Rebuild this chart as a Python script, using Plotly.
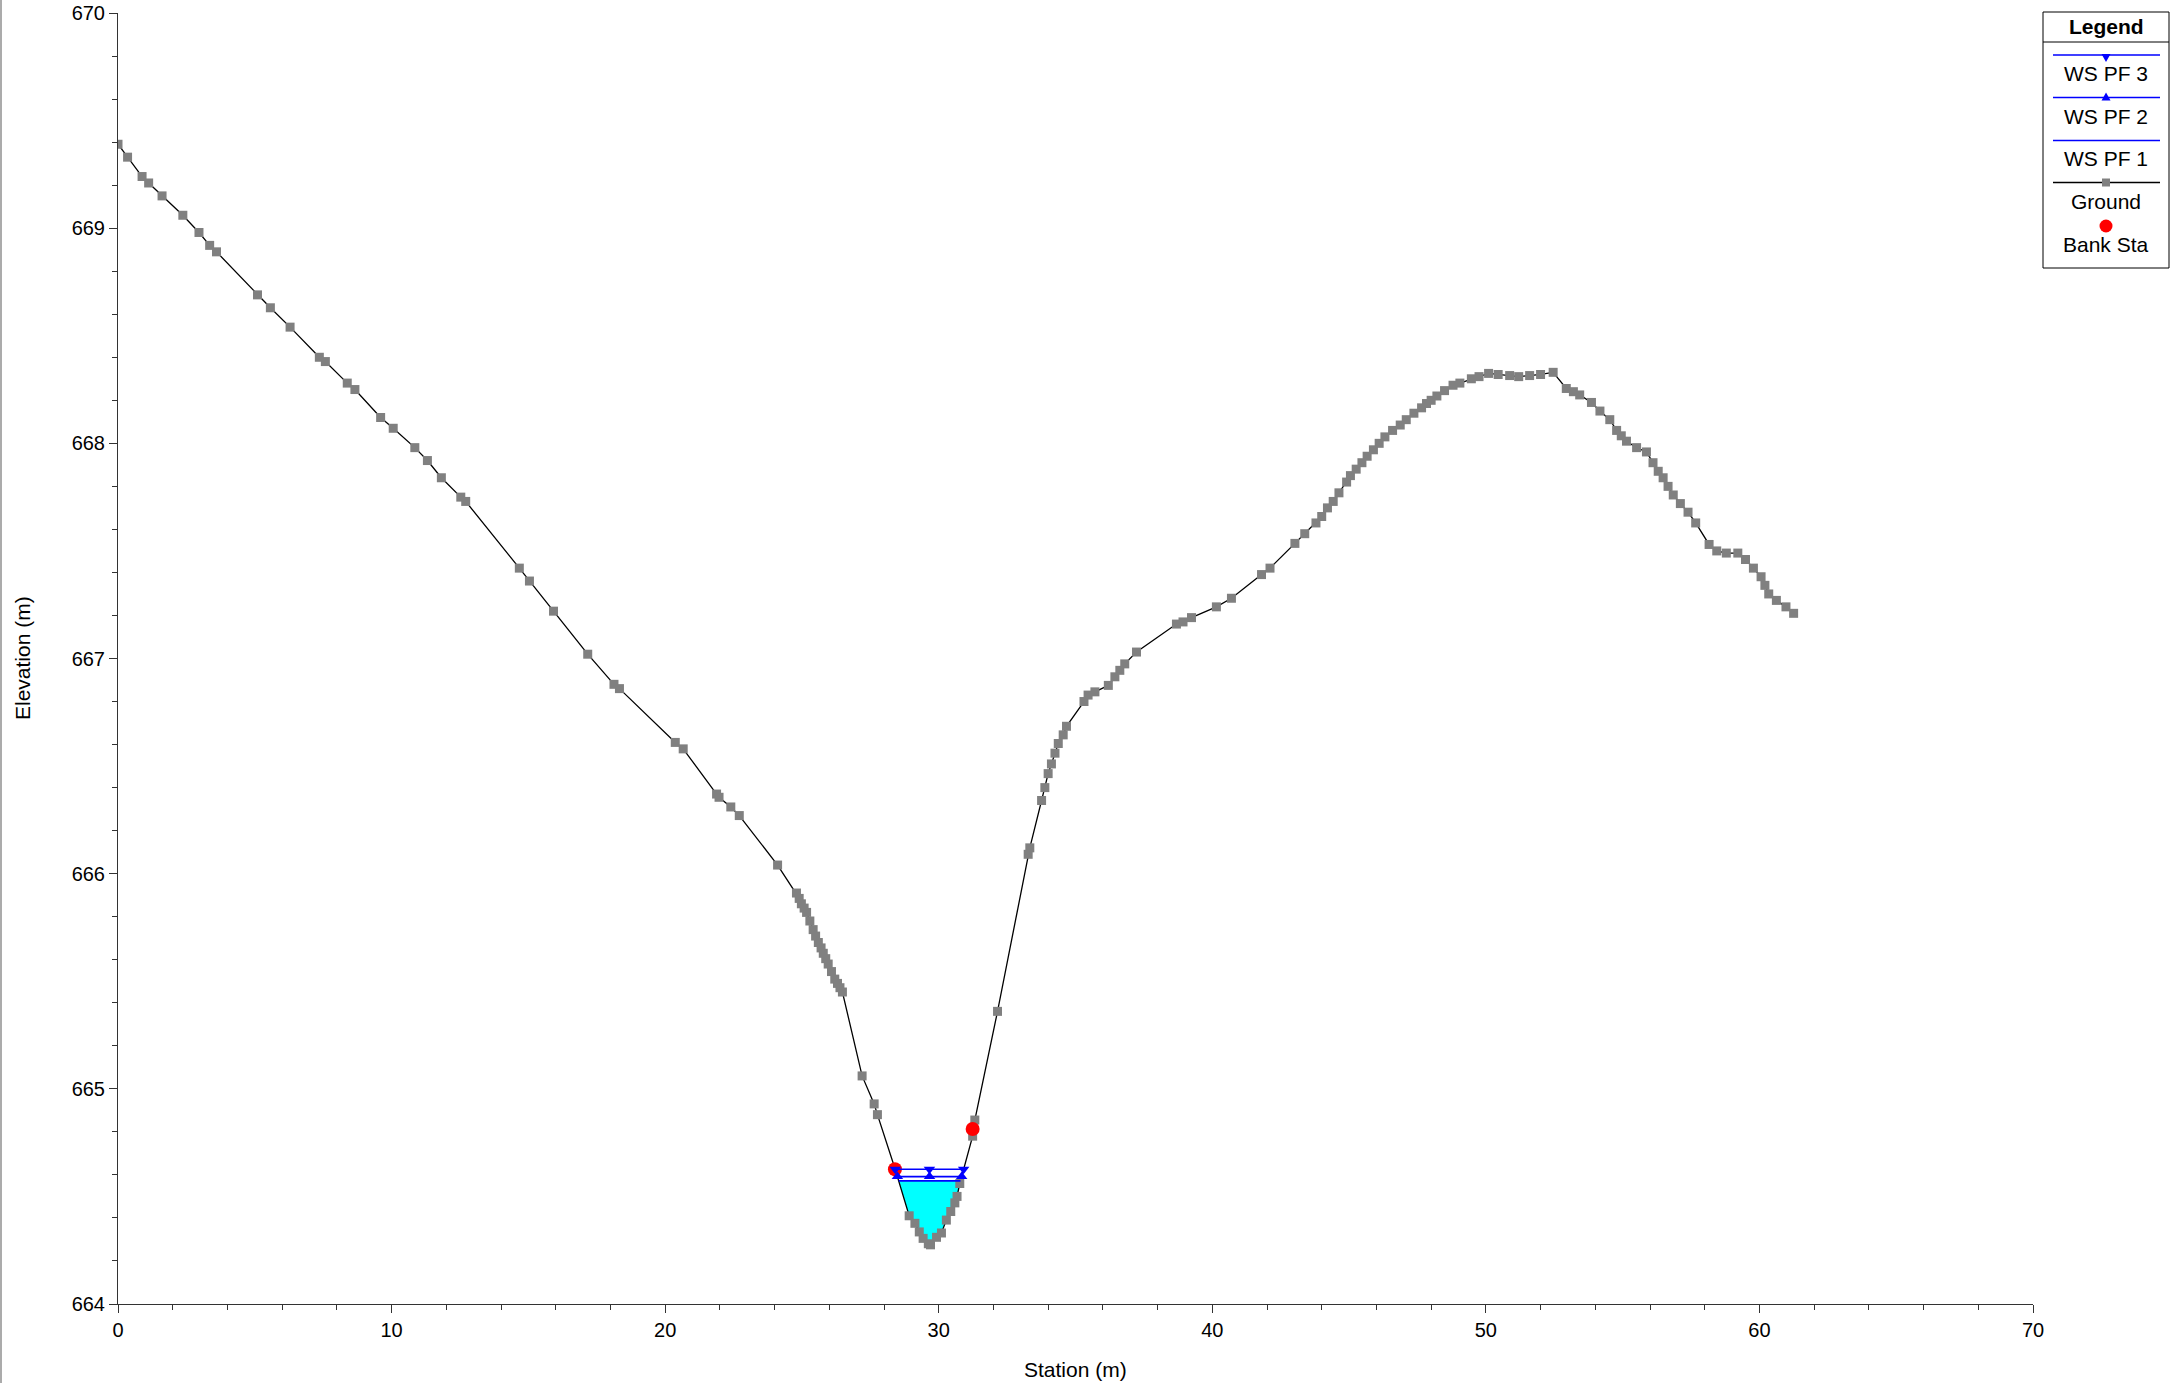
import numpy as np
import plotly.graph_objects as go

# ---------------- data ----------------
station = [0.00, 0.35, 0.88, 1.12, 1.61, 2.37, 2.96, 3.35, 3.60, 5.10, 5.57, 6.29, 7.36, 7.58,
           8.38, 8.66, 9.60, 10.06, 10.85, 11.31, 11.82, 12.53, 12.71, 14.67, 15.04, 15.92,
           17.17, 18.13, 18.33, 20.37, 20.66, 21.88, 21.97, 22.40, 22.71, 24.11, 24.80, 24.90,
           24.98, 25.08, 25.17, 25.29, 25.41, 25.50, 25.60, 25.70, 25.78, 25.87, 25.96, 26.08,
           26.20, 26.30, 26.39, 26.48, 27.20, 27.64, 27.76, 28.40, 28.92, 29.13, 29.29, 29.43,
           29.62, 29.70, 29.92, 30.10, 30.28, 30.44, 30.59, 30.67, 30.77, 31.24, 31.32, 32.15,
           33.27, 33.33, 33.76, 33.88, 34.00, 34.12, 34.25, 34.37, 34.55, 34.67, 35.31, 35.46,
           35.71, 36.20, 36.44, 36.62, 36.80, 37.23, 38.69, 38.93, 39.24, 40.15, 40.70, 41.80,
           42.11, 43.02, 43.38, 43.79, 44.00, 44.21, 44.42, 44.63, 44.91, 45.05, 45.26, 45.47,
           45.66, 45.89, 46.10, 46.31, 46.59, 46.87, 47.09, 47.37, 47.65, 47.83, 48.00, 48.21,
           48.49, 48.80, 49.05, 49.47, 49.75, 50.10, 50.45, 50.87, 51.20, 51.60, 52.00, 52.46,
           52.94, 53.20, 53.43, 53.86, 54.17, 54.53, 54.78, 54.95, 55.14, 55.51, 55.87, 56.11,
           56.30, 56.48, 56.66, 56.85, 57.11, 57.39, 57.67, 58.16, 58.44, 58.79, 59.21, 59.49,
           59.78, 60.06, 60.20, 60.34, 60.62, 60.97, 61.25]
elevation = [669.39, 669.33, 669.24, 669.21, 669.15, 669.06, 668.98, 668.92, 668.89, 668.69,
             668.63, 668.54, 668.40, 668.38, 668.28, 668.25, 668.12, 668.07, 667.98, 667.92,
             667.84, 667.75, 667.73, 667.42, 667.36, 667.22, 667.02, 666.88, 666.86, 666.61,
             666.58, 666.37, 666.355, 666.31, 666.27, 666.04, 665.91, 665.885, 665.86, 665.84,
             665.82, 665.78, 665.74, 665.71, 665.68, 665.655, 665.63, 665.605, 665.58, 665.545,
             665.51, 665.49, 665.47, 665.45, 665.06, 664.93, 664.88, 664.63, 664.41, 664.375,
             664.335, 664.305, 664.28, 664.275, 664.31, 664.33, 664.39, 664.43, 664.47, 664.50,
             664.56, 664.78, 664.855, 665.36, 666.09, 666.12, 666.34, 666.40, 666.465, 666.51,
             666.56, 666.605, 666.645, 666.685, 666.80, 666.83, 666.845, 666.875, 666.915,
             666.945, 666.975, 667.03, 667.16, 667.17, 667.19, 667.24, 667.28, 667.39, 667.42,
             667.535, 667.58, 667.63, 667.66, 667.70, 667.73, 667.77, 667.82, 667.85, 667.88,
             667.91, 667.94, 667.97, 668.00, 668.03, 668.06, 668.085, 668.11, 668.14, 668.165,
             668.185, 668.20, 668.22, 668.245, 668.27, 668.28, 668.30, 668.31, 668.325, 668.32,
             668.315, 668.31, 668.315, 668.32, 668.33, 668.255, 668.24, 668.225, 668.19, 668.15,
             668.11, 668.06, 668.035, 668.01, 667.98, 667.96, 667.91, 667.87, 667.84, 667.80,
             667.76, 667.72, 667.68, 667.63, 667.53, 667.50, 667.49, 667.49, 667.46, 667.42,
             667.38, 667.34, 667.30, 667.27, 667.24, 667.21]
bank_station = [28.40, 31.24]
bank_elevation = [664.626, 664.813]
ws_names = ["WS PF 1", "WS PF 2", "WS PF 3"]
ws_elevation = [664.572, 664.592, 664.626]
x_ticks = [0, 10, 20, 30, 40, 50, 60, 70]
y_ticks = [664, 665, 666, 667, 668, 669, 670]

# ---------------- geometry helpers ----------------
W, H = 2179, 1383
L, R, T, B = 118, 146, 13, 79
PW, PH = W - L - R, H - T - B


def px(x):
    return (x - L) / PW


def py(y):
    return (H - B - y) / PH


def wet_extent(ws):
    st = np.array(station)
    el = np.array(elevation)
    i0 = int(np.argmin(el))
    i = i0
    while el[i - 1] < ws:
        i -= 1
    xl = st[i - 1] + (ws - el[i - 1]) * (st[i] - st[i - 1]) / (el[i] - el[i - 1])
    j = i0
    while el[j + 1] < ws:
        j += 1
    xr = st[j] + (ws - el[j]) * (st[j + 1] - st[j]) / (el[j + 1] - el[j])
    return xl, xr, i, j


fig = go.Figure()

# water fill (lowest profile)
xl, xr, i, j = wet_extent(ws_elevation[0])
fig.add_trace(go.Scatter(
    x=[xl] + station[i:j + 1] + [xr, xl],
    y=[ws_elevation[0]] + elevation[i:j + 1] + [ws_elevation[0], ws_elevation[0]],
    fill="toself", fillcolor="#00FFFF", mode="lines", line=dict(width=0),
    hoverinfo="skip", showlegend=False))

# ground
fig.add_trace(go.Scatter(
    x=station, y=elevation, mode="lines+markers", name="Ground",
    line=dict(color="black", width=1.3),
    marker=dict(symbol="square", size=9, color="#808080"),
    showlegend=False))

# bank stations
fig.add_trace(go.Scatter(
    x=bank_station, y=bank_elevation, mode="markers", name="Bank Sta",
    marker=dict(symbol="circle", size=14, color="#FF0000"),
    showlegend=False))

# water surfaces
symbols = [None, "triangle-up", "triangle-down"]
for name, ws, sym in zip(ws_names, ws_elevation, symbols):
    a, b, _, _ = wet_extent(ws)
    xs = [a, (a + b) / 2, b]
    if sym is None:
        fig.add_trace(go.Scatter(x=[a, b], y=[ws, ws], mode="lines", name=name,
                                 line=dict(color="#0000FF", width=1.6), showlegend=False))
    else:
        fig.add_trace(go.Scatter(x=xs, y=[ws] * 3, mode="lines+markers", name=name,
                                 line=dict(color="#0000FF", width=1.6),
                                 marker=dict(symbol=sym, size=10, color="#0000FF"),
                                 showlegend=False))

# ---------------- custom legend ----------------
shapes = []
annotations = []
FONT = "Arial, Liberation Sans, sans-serif"

bx0, bx1, by0, by1 = 2043, 2169, 12, 268
shapes.append(dict(type="rect", xref="paper", yref="paper", x0=px(bx0), x1=px(bx1),
                   y0=py(by1), y1=py(by0), line=dict(color="black", width=1),
                   fillcolor="white", layer="below"))
shapes.append(dict(type="line", xref="paper", yref="paper", x0=px(bx0), x1=px(bx1),
                   y0=py(42), y1=py(42), line=dict(color="black", width=1)))
annotations.append(dict(xref="paper", yref="paper", x=px(2106), y=py(26), text="<b>Legend</b>",
                        showarrow=False, font=dict(family=FONT, size=21, color="black"),
                        xanchor="center", yanchor="middle"))

cx = 2106
items = [("WS PF 3", 55, "#0000FF", "down", 74),
         ("WS PF 2", 97.5, "#0000FF", "up", 117),
         ("WS PF 1", 140.5, "#0000FF", None, 159),
         ("Ground", 182.5, "black", "square", 202),
         ("Bank Sta", None, None, "circle", 245)]
for label, ly, lc, mk, ty in items:
    if ly is not None:
        shapes.append(dict(type="line", xref="paper", yref="paper", x0=px(2053), x1=px(2160),
                           y0=py(ly), y1=py(ly), line=dict(color=lc, width=1.5)))
    if mk == "down":
        path = f"M {px(cx-4.5)} {py(ly-1)} L {px(cx+4.5)} {py(ly-1)} L {px(cx)} {py(ly+7)} Z"
        shapes.append(dict(type="path", xref="paper", yref="paper", path=path,
                           fillcolor="#0000FF", line=dict(width=0)))
    elif mk == "up":
        path = f"M {px(cx-4.5)} {py(ly+3)} L {px(cx+4.5)} {py(ly+3)} L {px(cx)} {py(ly-5)} Z"
        shapes.append(dict(type="path", xref="paper", yref="paper", path=path,
                           fillcolor="#0000FF", line=dict(width=0)))
    elif mk == "square":
        shapes.append(dict(type="rect", xref="paper", yref="paper", x0=px(cx-4), x1=px(cx+4),
                           y0=py(ly+4), y1=py(ly-4), fillcolor="#808080", line=dict(width=0)))
    elif mk == "circle":
        shapes.append(dict(type="circle", xref="paper", yref="paper", x0=px(cx-6.5), x1=px(cx+6.5),
                           y0=py(226+6.5), y1=py(226-6.5), fillcolor="#FF0000", line=dict(width=0)))
    annotations.append(dict(xref="paper", yref="paper", x=px(cx), y=py(ty), text=label,
                            showarrow=False, font=dict(family=FONT, size=21, color="black"),
                            xanchor="center", yanchor="middle"))

# axis titles
annotations.append(dict(xref="paper", yref="paper", x=0.5, y=py(1369), text="Station (m)",
                        showarrow=False, font=dict(family=FONT, size=21, color="black"),
                        xanchor="center", yanchor="middle"))
annotations.append(dict(xref="paper", yref="paper", x=px(22), y=py(658), text="Elevation (m)",
                        showarrow=False, textangle=-90,
                        font=dict(family=FONT, size=21, color="black"),
                        xanchor="center", yanchor="middle"))

# left window border
shapes.append(dict(type="line", xref="paper", yref="paper", x0=px(1), x1=px(1),
                   y0=py(0), y1=py(H), line=dict(color="#ABABAB", width=2)))

axis_common = dict(showgrid=False, zeroline=False, showline=True, linecolor="#333333",
                   linewidth=1, ticks="outside", ticklen=8, tickwidth=1, tickcolor="#333333",
                   automargin=False,
                   tickfont=dict(family=FONT, size=20, color="black"))

fig.update_layout(
    width=W, height=H,
    margin=dict(l=L, r=R, t=T, b=B, pad=0, autoexpand=False),
    paper_bgcolor="white", plot_bgcolor="white",
    showlegend=False,
    font=dict(family=FONT),
    xaxis=dict(range=[0, 70], tickvals=x_ticks, ticktext=[str(v) for v in x_ticks],
               minor=dict(dtick=2, ticklen=5, ticks="outside", tickcolor="#333333", showgrid=False),
               **axis_common),
    yaxis=dict(range=[664, 670], tickvals=y_ticks, ticktext=[str(v) for v in y_ticks],
               minor=dict(dtick=0.2, ticklen=5, ticks="outside", tickcolor="#333333", showgrid=False),
               **axis_common),
    shapes=shapes,
    annotations=annotations,
)

fig.write_html("out.html", config={"displayModeBar": False},
               post_script="document.body.style.margin='0';document.body.style.overflow='hidden';")
